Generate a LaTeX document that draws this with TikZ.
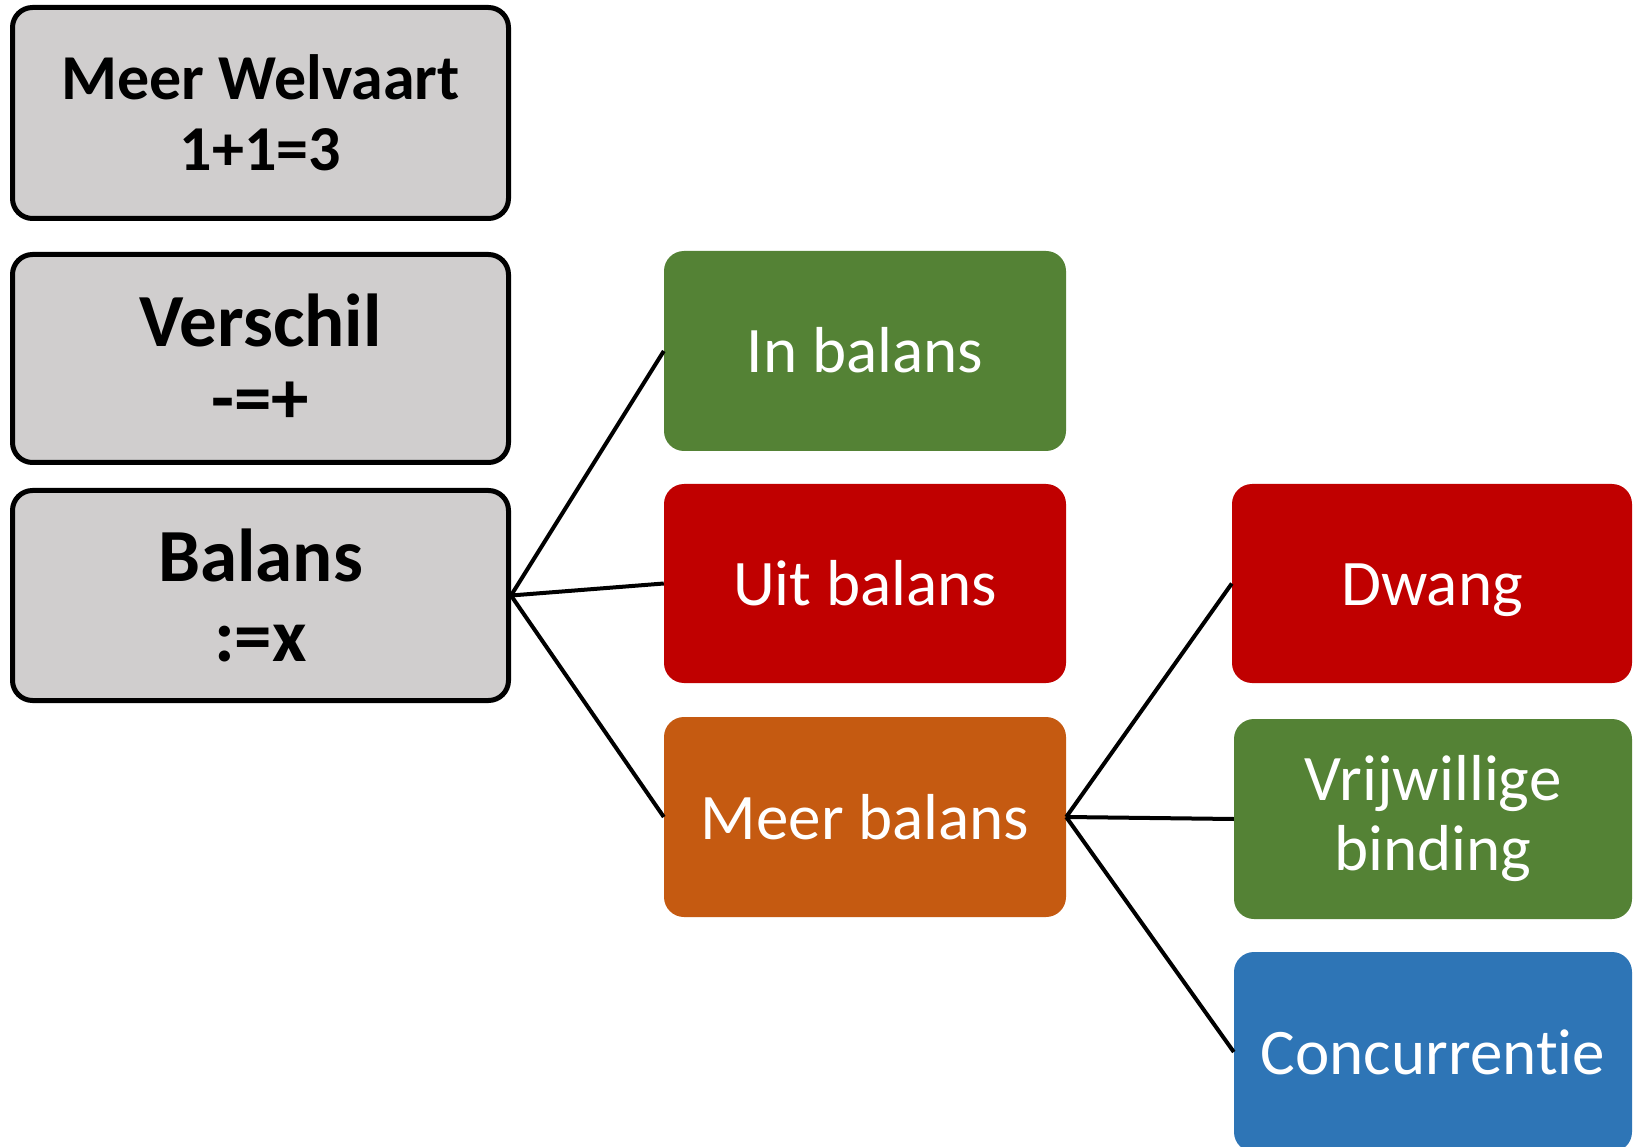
\documentclass[tikz,border=0pt]{standalone}
\usepackage{fontspec}
\setmainfont{Carlito}[Ligatures={NoCommon,NoContextual}]
\definecolor{grayfill}{HTML}{D0CECE}
\definecolor{ggreen}{HTML}{548235}
\definecolor{rred}{HTML}{C00000}
\definecolor{oorange}{HTML}{C55A11}
\definecolor{bblue}{HTML}{2E75B6}
\tikzset{
  graybox/.style={draw=black, line width=5pt, fill=grayfill, rounded corners=20pt,
    minimum width=496pt, align=center, inner sep=0pt, text=black,
    font=\fontsize{64}{71}\selectfont\bfseries},
  colbox/.style={rounded corners=20pt, inner sep=0pt, text=white,
    minimum width=400pt, minimum height=200pt, text height=44pt, text depth=0pt,
    font=\fontsize{65}{70}\selectfont},
  conn/.style={draw=black, line width=4pt}
}
\begin{document}
\begin{tikzpicture}[x=1pt,y=-1pt]
\clip (0,0) rectangle (1634,1147);
\fill[white] (0,0) rectangle (1634,1147);
\node[graybox, minimum height=211pt] (welvaart) at (260.5,113) {Meer Welvaart\\1+1=3};
\node[graybox, minimum height=208pt, font=\fontsize{75}{77}\selectfont\bfseries] (verschil) at (260.5,358.5) {Verschil\\-=+};
\node[graybox, minimum height=210pt, font=\fontsize{75}{80}\selectfont\bfseries] (balans) at (260.5,595.5) {Balans\\:=x};
\node[colbox, fill=ggreen, minimum width=402pt] (inb) at (865,351) {In balans};
\node[colbox, fill=rred, minimum width=402pt, minimum height=199pt] (uitb) at (865,583.5) {Uit balans};
\node[colbox, fill=oorange, minimum width=402pt] (meerb) at (865,817) {Meer balans};
\node[colbox, fill=rred, minimum width=400pt, minimum height=199pt] (dwang) at (1432,583.5) {Dwang};
\node[colbox, fill=ggreen, minimum width=398pt, align=center, text height=, text depth=] (vrij) at (1433,819) {Vrijwillige\\binding};
\node[colbox, fill=bblue, minimum width=398pt] (conc) at (1433,1052) {Concurrentie};
\draw[conn] (balans.east) -- (inb.west);
\draw[conn] (balans.east) -- (uitb.west);
\draw[conn] (balans.east) -- (meerb.west);
\draw[conn] (meerb.east) -- (dwang.west);
\draw[conn] (meerb.east) -- (vrij.west);
\draw[conn] (meerb.east) -- (conc.west);
\end{tikzpicture}
\end{document}
